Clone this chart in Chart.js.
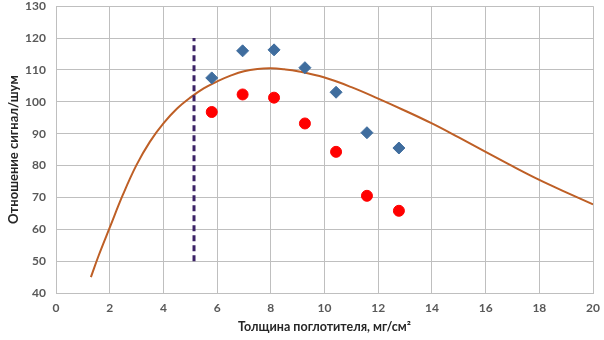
<!DOCTYPE html>
<html>
<head>
<meta charset="utf-8">
<script src="https://cdn.jsdelivr.net/npm/chart.js@4.4.1/dist/chart.umd.min.js"></script>
<style>
  body { margin: 0; background: #fff; }
  #outer { width: 604px; height: 340px; overflow: hidden; position: relative; }
  #wrap { position: absolute; left: 0; top: -11px; width: 608px; height: 351px; }
</style>
</head>
<body>
<div id="outer"><div id="wrap"><canvas id="myChart"></canvas></div></div>
<script>
// измерения
var thickness = [5.8, 6.95, 8.12, 9.27, 10.43, 11.58, 12.77];
var snrBlue = [107.5, 116.0, 116.3, 110.7, 103.0, 90.3, 85.5];
var snrRed = [96.8, 102.3, 101.3, 93.2, 84.3, 70.5, 65.8];

// расчётная кривая
var curveX = [1.3, 1.6, 2, 2.5, 3, 3.5, 4, 4.5, 5, 5.5, 6, 6.5, 7, 7.5, 8, 8.5, 9, 10, 11, 12, 13, 14, 15, 16, 17, 18, 19, 20];
var curveY = [45, 52, 60.5, 71, 80.2, 87.5, 93.2, 97.8, 101.3, 104.2, 106.4, 108.2, 109.6, 110.3, 110.5, 110.2, 109.6, 107.6, 104.6, 101, 97.2, 93.2, 88.8, 84.3, 79.8, 75.5, 71.6, 67.8];

// пунктир
var markerX = [5.14, 5.14];
var markerY = [50, 120];

var xTicks = [0, 2, 4, 6, 8, 10, 12, 14, 16, 18, 20];
var yTicks = [40, 50, 60, 70, 80, 90, 100, 110, 120, 130];

function pts(xs, ys) {
  return xs.map(function (x, i) { return { x: x, y: ys[i] }; });
}

Chart.defaults.font.family = "Lato, 'Open Sans', sans-serif";
Chart.defaults.color = "#595959";

new Chart("myChart", {
  type: "scatter",
  data: {
    datasets: [
      {
        data: pts(curveX, curveY),
        showLine: true,
        borderColor: "#BE5F26",
        borderWidth: 2,
        pointRadius: 0,
        tension: 0.4,
        order: 3
      },
      {
        data: pts(markerX, markerY),
        showLine: true,
        borderColor: "#3B2266",
        borderWidth: 3,
        borderDash: [6, 4],
        pointRadius: 0,
        order: 2
      },
      {
        data: pts(thickness, snrBlue),
        pointStyle: "rectRot",
        pointRadius: 6,
        backgroundColor: "#3F6D9E",
        borderColor: "#3F6D9E",
        order: 1
      },
      {
        data: pts(thickness, snrRed),
        pointStyle: "circle",
        pointRadius: 5.5,
        backgroundColor: "#FF0000",
        borderColor: "#FF0000",
        order: 1
      }
    ]
  },
  options: {
    responsive: true,
    maintainAspectRatio: false,
    animation: false,
    layout: { padding: { top: 0, right: 0, left: 2, bottom: 2 } },
    plugins: {
      legend: { display: false },
      tooltip: { enabled: false }
    },
    scales: {
      x: {
        type: "linear",
        min: 0,
        max: 20,
        afterBuildTicks: function (s) { s.ticks = xTicks.map(function (v) { return { value: v }; }); },
        grid: { color: "#BFBFBF", drawTicks: false },
        border: { color: "#BFBFBF" },
        ticks: { padding: 8, font: { size: 12, weight: "bold" }, color: "#595959" },
        title: {
          display: true,
          text: "Толщина поглотителя, мг/см²",
          font: { size: 12.5, weight: "bold" },
          color: "#262626",
          padding: { top: 4 }
        },
        afterFit: function (s) { s.height = 45; }
      },
      y: {
        type: "linear",
        min: 40,
        max: 130,
        afterBuildTicks: function (s) { s.ticks = yTicks.map(function (v) { return { value: v }; }); },
        grid: { color: "#BFBFBF", drawTicks: false },
        border: { color: "#BFBFBF" },
        ticks: { padding: 10, font: { size: 12, weight: "bold" }, color: "#595959" },
        title: {
          display: true,
          text: "Отношение сигнал/шум",
          font: { size: 13, weight: "bold" },
          color: "#262626",
          padding: { bottom: 3 }
        },
        afterFit: function (s) { s.width = 54; }
      }
    }
  }
});
</script>
</body>
</html>
